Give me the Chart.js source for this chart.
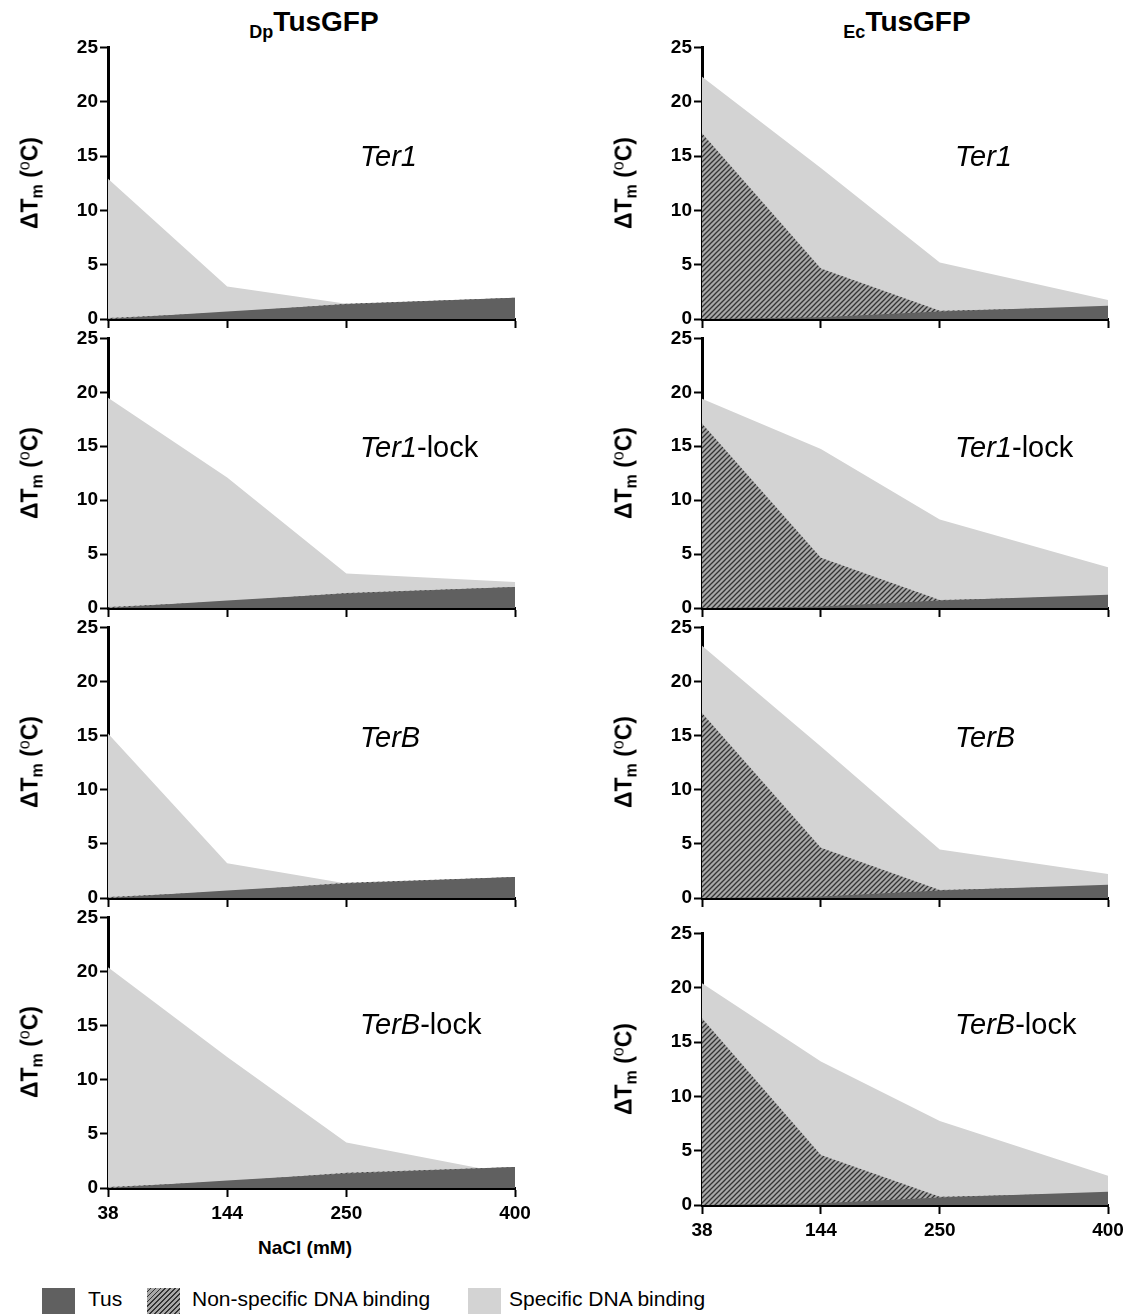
<!DOCTYPE html>
<html>
<head>
<meta charset="utf-8">
<script src="https://cdn.jsdelivr.net/npm/chart.js@4.4.1/dist/chart.umd.min.js"></script>
<style>
  body { margin: 0; background: #fff; }
  #page { position: relative; width: 1131px; height: 1315px; background: #fff; font-family: "Liberation Sans", Arial, sans-serif; color: #000; overflow: hidden; }
  canvas { position: absolute; }
  .title { position: absolute; width: 300px; text-align: center; font-weight: bold; font-size: 28px; }
  .title sub { font-size: 18px; vertical-align: -7px; }
  .ylab { position: absolute; width: 200px; text-align: center; font-weight: bold; font-size: 23px; transform: translate(-50%, -50%) rotate(-90deg); white-space: nowrap; }
  .ylab sub { font-size: 16px; vertical-align: -5px; }
  .ylab sup { font-size: 16px; vertical-align: 8px; font-weight: normal; }
  .tag { position: absolute; font-size: 29px; white-space: nowrap; }
  .xlab { position: absolute; font-weight: bold; font-size: 19px; width: 200px; text-align: center; }
  .legend { position: absolute; top: 1287px; font-size: 21px; white-space: nowrap; }
  .sw { position: absolute; width: 33px; height: 26px; }
</style>
</head>
<body>
<div id="page">
  <div class="title" style="left:164px; top:6px;"><sub>Dp</sub>TusGFP</div>
  <div class="title" style="left:757px; top:6px;"><sub>Ec</sub>TusGFP</div>
  <div class="xlab" style="left:205px; top:1237px;">NaCl (mM)</div>

  <div class="sw" style="left:42px; background:#606060; top:1288px;"></div>
  <div class="legend" style="left:88px;">Tus</div>
  <div class="sw" style="left:147px; top:1288px; background: repeating-linear-gradient(135deg, #a8a8a8 0px, #a8a8a8 2.2px, #333 2.2px, #333 3.5px);"></div>
  <div class="legend" style="left:192px;">Non-specific DNA binding</div>
  <div class="sw" style="left:468px; background:#d3d3d3; top:1288px;"></div>
  <div class="legend" style="left:509px;">Specific DNA binding</div>
</div>
<script>
// NaCl concentrations (mM) and axis ticks
var salt = [38, 144, 250, 400];
var yTicks = [0, 5, 10, 15, 20, 25];

// DpTusGFP (left column) - dTm values
var dpTus = [0, 0.7, 1.35, 1.95];
var dpNonSpecific = [0.1, 0.6, 1.4, 1.95];
var dpTer1 = [12.9, 3.0, 1.4, 1.6];
var dpTer1Lock = [19.5, 12.1, 3.2, 2.4];
var dpTerB = [15.2, 3.2, 1.35, 1.6];
var dpTerBLock = [20.4, 12.1, 4.2, 1.2];

// EcTusGFP (right column)
var ecTus = [0, 0.15, 0.7, 1.23];
var ecNonSpecific = [17.1, 4.65, 0.75, 1.1];
var ecNonSpecificB = [17.2, 4.6, 0.75, 1.1];
var ecTer1 = [22.3, 13.9, 5.2, 1.75];
var ecTer1Lock = [19.4, 14.75, 8.2, 3.77];
var ecTerB = [23.3, 14.0, 4.48, 2.22];
var ecTerBLock = [20.4, 13.2, 7.74, 2.7];

var panelNames = ["Ter1", "Ter1-lock", "TerB", "TerB-lock"];
var seriesNames = ["Tus", "Non-specific DNA binding", "Specific DNA binding"];

var page = document.getElementById("page");

// hatch pattern for the non-specific DNA binding area
function makeHatch() {
    var s = 5;
    var c = document.createElement("canvas");
    c.width = s; c.height = s;
    var g = c.getContext("2d");
    g.fillStyle = "#a8a8a8";
    g.fillRect(0, 0, s, s);
    g.strokeStyle = "#333";
    g.lineWidth = 1.3;
    g.beginPath();
    g.moveTo(-1, s + 1); g.lineTo(s + 1, -1);
    g.moveTo(-1, 1); g.lineTo(1, -1);
    g.moveTo(s - 1, s + 1); g.lineTo(s + 1, s - 1);
    g.stroke();
    return g.createPattern(c, "repeat");
}
var hatch = makeHatch();

var tickFont = { family: "'Liberation Sans', Arial, sans-serif", weight: "bold", size: 19 };

function pts(vals) {
    return salt.map(function (x, i) { return { x: x, y: vals[i] }; });
}

// axisX/right/top/bottom = where the chart area should land on the page
function addPanel(cfg) {
    var yW = 62, padTop = 12, padRight = 24, xH = 42;
    var w = yW + (cfg.right - cfg.axisX) + padRight;
    var h = padTop + (cfg.bottom - cfg.top) + xH;
    var cv = document.createElement("canvas");
    cv.width = w; cv.height = h;
    cv.style.left = (cfg.axisX - yW) + "px";
    cv.style.top = (cfg.top - padTop) + "px";
    cv.style.width = w + "px";
    cv.style.height = h + "px";
    page.appendChild(cv);

    new Chart(cv.getContext("2d"), {
        type: "line",
        data: {
            datasets: [
                { label: seriesNames[0], data: pts(cfg.tus), fill: "origin", backgroundColor: "#606060", borderWidth: 0, pointRadius: 0 },
                { label: seriesNames[1], data: pts(cfg.nonSpecific), fill: "origin", backgroundColor: hatch, borderWidth: 0, pointRadius: 0 },
                { label: seriesNames[2], data: pts(cfg.specific), fill: "origin", backgroundColor: "#d3d3d3", borderWidth: 0, pointRadius: 0 }
            ]
        },
        options: {
            responsive: false,
            animation: false,
            devicePixelRatio: 1,
            layout: { padding: { top: padTop, right: padRight, left: 0, bottom: 0 } },
            plugins: { legend: { display: false }, tooltip: { enabled: false } },
            scales: {
                x: {
                    type: "linear",
                    min: 38,
                    max: 400,
                    z: 1,
                    afterBuildTicks: function (s) { s.ticks = salt.map(function (v) { return { value: v }; }); },
                    afterFit: function (s) { s.height = xH; },
                    border: { display: true, color: "#000", width: 3 },
                    grid: { drawOnChartArea: false, drawTicks: true, tickLength: 9, tickColor: "#000", tickWidth: 2 },
                    ticks: { display: cfg.showX, color: "#000", font: tickFont, padding: 5, maxRotation: 0, autoSkip: false }
                },
                y: {
                    min: 0,
                    max: 25,
                    z: 1,
                    afterBuildTicks: function (s) { s.ticks = yTicks.map(function (v) { return { value: v }; }); },
                    afterFit: function (s) { s.width = yW; },
                    border: { display: true, color: "#000", width: 3 },
                    grid: { drawOnChartArea: false, drawTicks: true, tickLength: 8, tickColor: "#000", tickWidth: 2 },
                    ticks: { color: "#000", font: tickFont, padding: 2 }
                }
            }
        }
    });

    // y axis title
    var yl = document.createElement("div");
    yl.className = "ylab";
    yl.style.left = cfg.yLabX + "px";
    yl.style.top = ((cfg.top + cfg.bottom) / 2) + "px";
    yl.innerHTML = "&Delta;T<sub>m</sub> (<sup>o</sup>C)";
    page.appendChild(yl);

    // construct name inside the panel
    var tg = document.createElement("div");
    tg.className = "tag";
    tg.style.left = cfg.tagX + "px";
    tg.style.top = (cfg.tagY - 17) + "px";
    var parts = cfg.name.split("-");
    tg.innerHTML = "<i>" + parts[0] + "</i>" + (parts[1] ? "-" + parts[1] : "");
    page.appendChild(tg);
}

var leftRows = [[46, 319], [337, 608], [626, 898], [916, 1188]];
var rightRows = [[46, 319], [337, 608], [626, 898], [932, 1205]];
var tagRows = [157, 448, 738, 1025];
var dpSpecific = [dpTer1, dpTer1Lock, dpTerB, dpTerBLock];
var ecSpecific = [ecTer1, ecTer1Lock, ecTerB, ecTerBLock];
var ecNonSpec = [ecNonSpecific, ecNonSpecific, ecNonSpecific, ecNonSpecificB];

for (var i = 0; i < 4; i++) {
    addPanel({
        axisX: 108, right: 515, top: leftRows[i][0], bottom: leftRows[i][1],
        tus: dpTus, nonSpecific: dpNonSpecific, specific: dpSpecific[i],
        showX: i === 3, yLabX: 31, tagX: 360, tagY: tagRows[i], name: panelNames[i]
    });
    addPanel({
        axisX: 702, right: 1108, top: rightRows[i][0], bottom: rightRows[i][1],
        tus: ecTus, nonSpecific: ecNonSpec[i], specific: ecSpecific[i],
        showX: i === 3, yLabX: 625, tagX: 955, tagY: tagRows[i], name: panelNames[i]
    });
}
</script>
</body>
</html>
